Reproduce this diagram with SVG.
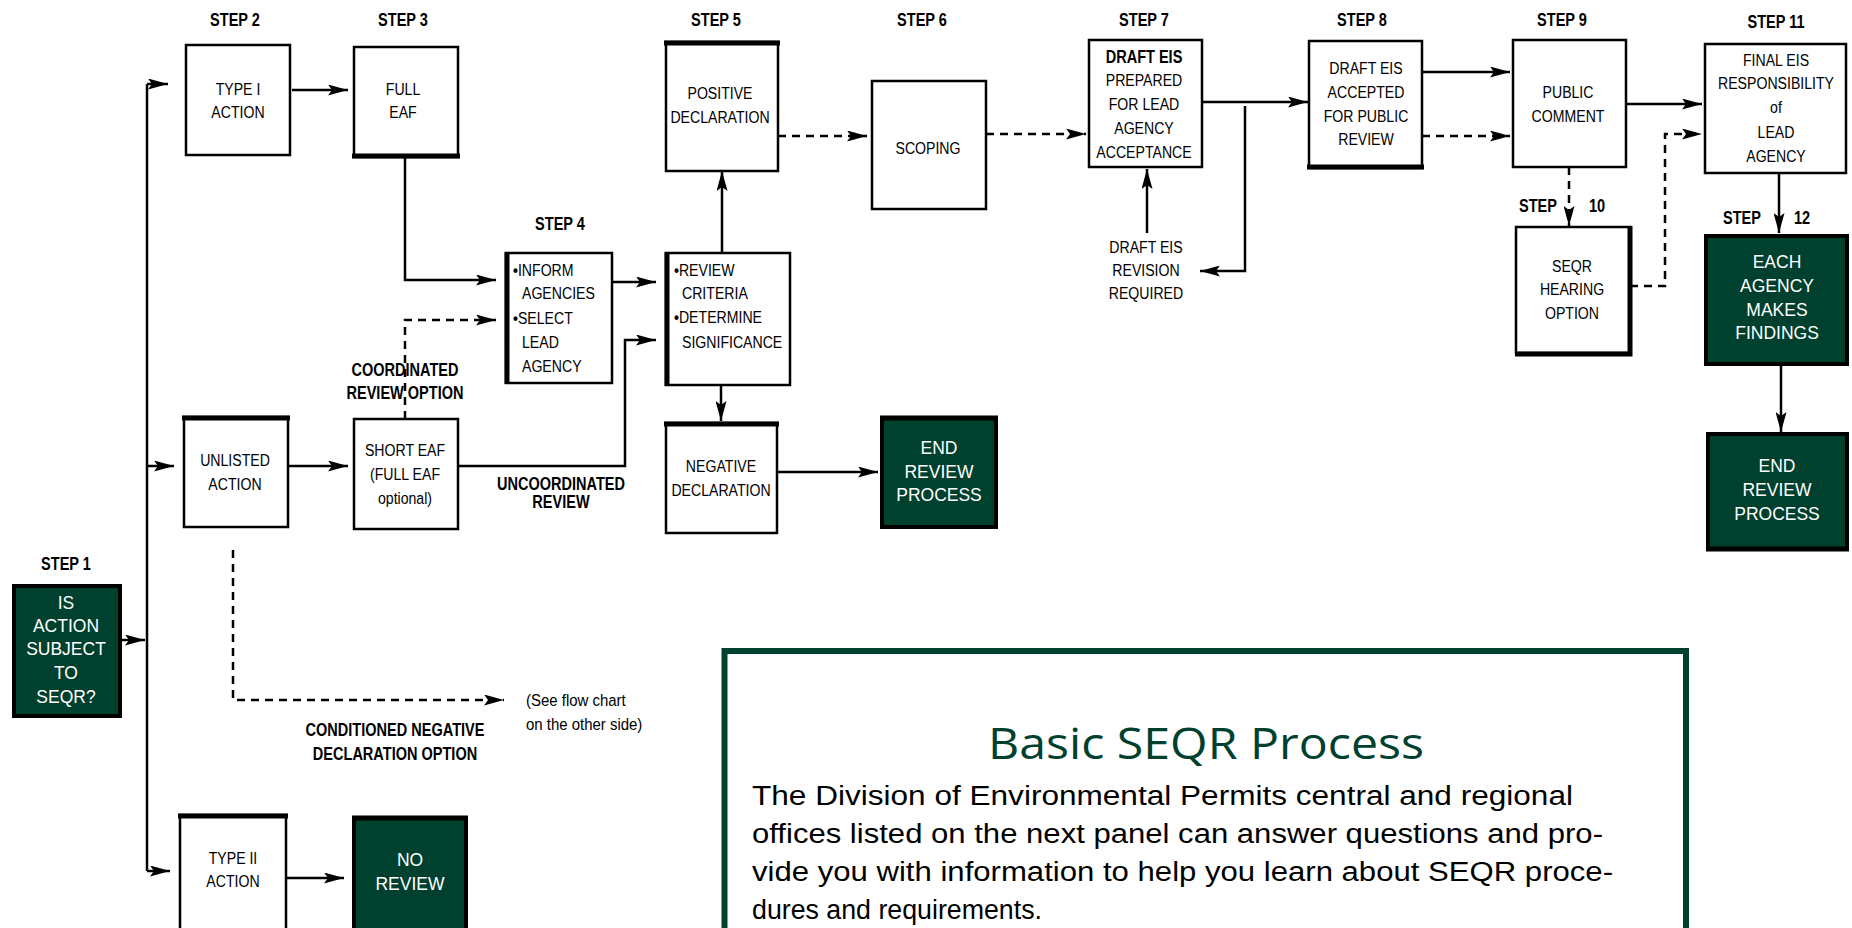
<svg xmlns="http://www.w3.org/2000/svg" width="1852" height="928" viewBox="0 0 1852 928">
<defs>
<style>
.bx{fill:#fff;stroke:#000;stroke-width:2.5}
.gb{fill:#00402e;stroke:#000;stroke-width:4}
.tk{fill:none;stroke:#000;stroke-width:5}
.n{font-family:"Liberation Sans",Arial,sans-serif;font-size:17px;text-anchor:middle;fill:#000}
.ns{font-family:"Liberation Sans",Arial,sans-serif;font-size:17px;fill:#000}
.st{font-family:"Liberation Sans",Arial,sans-serif;font-size:17.5px;font-weight:bold;text-anchor:middle;fill:#000}
.w{font-family:"Liberation Sans",Arial,sans-serif;font-size:17.5px;text-anchor:middle;fill:#fff}
.c{fill:none;stroke:#000;stroke-width:2.5;marker-end:url(#ah)}
.d{fill:none;stroke:#000;stroke-width:2.5;stroke-dasharray:8 6;marker-end:url(#ah)}
.l{fill:none;stroke:#000;stroke-width:2.5}
.body{font-family:"Liberation Sans",Arial,sans-serif;font-size:27px;fill:#000}
</style>
<marker id="ah" markerUnits="userSpaceOnUse" viewBox="0 0 20 11" refX="20" refY="5.5" markerWidth="20" markerHeight="11" orient="auto">
<path d="M0,0 L20,5.5 L0,11 L4,5.5 z" fill="#000"/>
</marker>
</defs>
<rect width="1852" height="928" fill="#fff"/>

<g id="step-labels">
<text class="st" transform="translate(235,26) scale(.83,1)">STEP 2</text>
<text class="st" transform="translate(403,26) scale(.83,1)">STEP 3</text>
<text class="st" transform="translate(560,230) scale(.83,1)">STEP 4</text>
<text class="st" transform="translate(716,26) scale(.83,1)">STEP 5</text>
<text class="st" transform="translate(922,26) scale(.83,1)">STEP 6</text>
<text class="st" transform="translate(1144,26) scale(.83,1)">STEP 7</text>
<text class="st" transform="translate(1362,26) scale(.83,1)">STEP 8</text>
<text class="st" transform="translate(1562,26) scale(.83,1)">STEP 9</text>
<text class="st" transform="translate(1776,28) scale(.83,1)">STEP 11</text>
<text class="st" transform="translate(66,570) scale(.83,1)">STEP 1</text>
<text class="st" transform="translate(1538,212) scale(.83,1)">STEP</text>
<text class="st" transform="translate(1597,212) scale(.83,1)">10</text>
<text class="st" transform="translate(1742,224) scale(.83,1)">STEP</text>
<text class="st" transform="translate(1802,224) scale(.83,1)">12</text>
</g>

<g id="connectors">
<path class="l" d="M147,84 V871"/>
<path class="c" d="M147,84 H168"/>
<path class="c" d="M147,466 H174"/>
<path class="c" d="M147,871 H170"/>
<path class="c" d="M121,640 H145"/>
<path class="c" d="M292,90 H348"/>
<path class="c" d="M405,157 V280 H496"/>
<path class="d" d="M405,419 V320 H496"/>
<path class="c" d="M612,282 H656"/>
<path class="c" d="M288,466 H348"/>
<path class="c" d="M458,466 H625 V340 H656"/>
<path class="c" d="M722,253 V171"/>
<path class="c" d="M721,385 V421"/>
<path class="c" d="M777,472 H878"/>
<path class="d" d="M778,136 H867"/>
<path class="d" d="M986,134 H1086"/>
<path class="c" d="M1202,102 H1308"/>
<path class="c" d="M1245,106 V271 H1200"/>
<path class="c" d="M1147,233 V169"/>
<path class="c" d="M1422,72 H1510"/>
<path class="d" d="M1422,136 H1510"/>
<path class="c" d="M1626,104 H1702"/>
<path class="d" d="M1630,286 H1665 V134 H1702"/>
<path class="d" d="M1569,167 V226"/>
<path class="c" d="M1779,173 V233"/>
<path class="c" d="M1781,365 V432"/>
<path class="d" d="M233,550 V700 H504"/>
<path class="c" d="M280,878 H344"/>
</g>

<g id="step1">
<rect class="gb" x="14" y="586" width="106" height="130" stroke-width="5"/>
<text class="w" x="66" y="609" font-size="18.5">IS</text>
<text class="w" x="66" y="632" font-size="18.5">ACTION</text>
<text class="w" x="66" y="655" font-size="18.5">SUBJECT</text>
<text class="w" x="66" y="679" font-size="18.5">TO</text>
<text class="w" x="66" y="703" font-size="18.5">SEQR?</text>
</g>

<g id="type1">
<rect class="bx" x="186" y="45" width="104" height="110"/>
<text class="n" transform="translate(238,95) scale(.83,1)">TYPE I</text>
<text class="n" transform="translate(238,118) scale(.83,1)">ACTION</text>
</g>

<g id="fulleaf">
<rect class="bx" x="354" y="47" width="104" height="110"/>
<path class="tk" d="M352,156 H460"/>
<text class="n" transform="translate(403,95) scale(.83,1)">FULL</text>
<text class="n" transform="translate(403,118) scale(.83,1)">EAF</text>
</g>

<g id="step4">
<rect class="bx" x="506" y="253" width="106" height="130" stroke-width="3"/>
<path class="tk" d="M507,252 V384" stroke-width="4"/>
<text class="ns" transform="translate(513,276) scale(.83,1)"><tspan font-weight="bold">•</tspan>INFORM</text>
<text class="ns" transform="translate(522,299) scale(.83,1)">AGENCIES</text>
<text class="ns" transform="translate(513,324) scale(.83,1)"><tspan font-weight="bold">•</tspan>SELECT</text>
<text class="ns" transform="translate(522,348) scale(.83,1)">LEAD</text>
<text class="ns" transform="translate(522,372) scale(.83,1)">AGENCY</text>
</g>

<g id="unlisted">
<rect class="bx" x="184" y="417" width="104" height="110"/>
<path class="tk" d="M182,418 H290"/>
<text class="n" transform="translate(235,466) scale(.83,1)">UNLISTED</text>
<text class="n" transform="translate(235,490) scale(.83,1)">ACTION</text>
</g>

<g id="shorteaf">
<rect class="bx" x="354" y="419" width="104" height="110"/>
<text class="n" transform="translate(405,456) scale(.83,1)">SHORT EAF</text>
<text class="n" transform="translate(405,480) scale(.83,1)">(FULL EAF</text>
<text class="n" transform="translate(405,504) scale(.83,1)">optional)</text>
</g>

<g id="type2">
<rect class="bx" x="180" y="815" width="106" height="130"/>
<path class="tk" d="M178,816 H288"/>
<text class="n" transform="translate(233,864) scale(.83,1)">TYPE II</text>
<text class="n" transform="translate(233,887) scale(.83,1)">ACTION</text>
</g>

<g id="noreview">
<rect class="gb" x="354" y="818" width="112" height="130" stroke-width="3"/>
<path class="tk" d="M352,818 H468"/>
<text class="w" x="410" y="866" font-size="18">NO</text>
<text class="w" x="410" y="890" font-size="18">REVIEW</text>
</g>

<g id="positive">
<rect class="bx" x="666" y="42" width="112" height="129"/>
<path class="tk" d="M664,43 H780"/>
<text class="n" transform="translate(720,99) scale(.83,1)">POSITIVE</text>
<text class="n" transform="translate(720,123) scale(.83,1)">DECLARATION</text>
</g>

<g id="review">
<rect class="bx" x="666" y="253" width="124" height="132"/>
<path class="tk" d="M667,252 V386" stroke-width="4"/>
<text class="ns" transform="translate(674,276) scale(.83,1)"><tspan font-weight="bold">•</tspan>REVIEW</text>
<text class="ns" transform="translate(682,299) scale(.83,1)">CRITERIA</text>
<text class="ns" transform="translate(674,323) scale(.83,1)"><tspan font-weight="bold">•</tspan>DETERMINE</text>
<text class="ns" transform="translate(682,348) scale(.83,1)">SIGNIFICANCE</text>
</g>

<g id="negative">
<rect class="bx" x="666" y="423" width="111" height="110"/>
<path class="tk" d="M664,424 H779"/>
<text class="n" transform="translate(721,472) scale(.83,1)">NEGATIVE</text>
<text class="n" transform="translate(721,496) scale(.83,1)">DECLARATION</text>
</g>

<g id="endreview1">
<rect class="gb" x="882" y="418" width="114" height="109" stroke-width="3"/>
<path class="tk" d="M880,418 H998"/>
<text class="w" x="939" y="454" font-size="18">END</text>
<text class="w" x="939" y="478" font-size="18">REVIEW</text>
<text class="w" x="939" y="501" font-size="18">PROCESS</text>
</g>

<g id="scoping">
<rect class="bx" x="872" y="81" width="114" height="128" stroke-width="3"/>
<text class="n" transform="translate(928,154) scale(.83,1)">SCOPING</text>
</g>

<g id="drafteis">
<rect class="bx" x="1089" y="40" width="113" height="127" stroke-width="4"/>
<text class="st" transform="translate(1144,63) scale(.83,1)">DRAFT EIS</text>
<text class="n" transform="translate(1144,86) scale(.83,1)">PREPARED</text>
<text class="n" transform="translate(1144,110) scale(.83,1)">FOR LEAD</text>
<text class="n" transform="translate(1144,134) scale(.83,1)">AGENCY</text>
<text class="n" transform="translate(1144,158) scale(.83,1)">ACCEPTANCE</text>
</g>

<g id="revision">
<text class="n" transform="translate(1146,253) scale(.83,1)">DRAFT EIS</text>
<text class="n" transform="translate(1146,276) scale(.83,1)">REVISION</text>
<text class="n" transform="translate(1146,299) scale(.83,1)">REQUIRED</text>
</g>

<g id="accepted">
<rect class="bx" x="1309" y="41" width="113" height="127"/>
<path class="tk" d="M1307,167 H1424"/>
<text class="n" transform="translate(1366,74) scale(.83,1)">DRAFT EIS</text>
<text class="n" transform="translate(1366,98) scale(.83,1)">ACCEPTED</text>
<text class="n" transform="translate(1366,122) scale(.83,1)">FOR PUBLIC</text>
<text class="n" transform="translate(1366,145) scale(.83,1)">REVIEW</text>
</g>

<g id="public">
<rect class="bx" x="1513" y="40" width="113" height="127" stroke-width="4"/>
<text class="n" transform="translate(1568,98) scale(.83,1)">PUBLIC</text>
<text class="n" transform="translate(1568,122) scale(.83,1)">COMMENT</text>
</g>

<g id="hearing">
<rect class="bx" x="1516" y="227" width="114" height="126"/>
<path class="tk" d="M1630,226 V354 H1515" stroke-width="4"/>
<text class="n" transform="translate(1572,272) scale(.83,1)">SEQR</text>
<text class="n" transform="translate(1572,295) scale(.83,1)">HEARING</text>
<text class="n" transform="translate(1572,319) scale(.83,1)">OPTION</text>
</g>

<g id="finaleis">
<rect class="bx" x="1705" y="44" width="141" height="129" stroke-width="4"/>
<text class="n" transform="translate(1776,66) scale(.83,1)">FINAL EIS</text>
<text class="n" transform="translate(1776,89) scale(.83,1)">RESPONSIBILITY</text>
<text class="n" transform="translate(1776,113) scale(.83,1)">of</text>
<text class="n" transform="translate(1776,138) scale(.83,1)">LEAD</text>
<text class="n" transform="translate(1776,162) scale(.83,1)">AGENCY</text>
</g>

<g id="findings">
<rect class="gb" x="1706" y="236" width="141" height="128"/>
<text class="w" x="1777" y="268">EACH</text>
<text class="w" x="1777" y="292">AGENCY</text>
<text class="w" x="1777" y="316">MAKES</text>
<text class="w" x="1777" y="339">FINDINGS</text>
</g>

<g id="endreview2">
<rect class="gb" x="1708" y="434" width="139" height="115" stroke-width="3.5"/>
<path class="tk" d="M1706,549 H1849" stroke-width="4"/>
<text class="w" x="1777" y="472" font-size="18">END</text>
<text class="w" x="1777" y="496" font-size="18">REVIEW</text>
<text class="w" x="1777" y="520" font-size="18">PROCESS</text>
</g>

<g id="labels">
<text class="st" transform="translate(405,376) scale(.83,1)">COORDINATED</text>
<text class="st" transform="translate(405,399) scale(.83,1)">REVIEW OPTION</text>
<text class="st" transform="translate(561,490) scale(.83,1)">UNCOORDINATED</text>
<text class="st" transform="translate(561,508) scale(.83,1)">REVIEW</text>
<text class="st" transform="translate(395,736) scale(.83,1)">CONDITIONED NEGATIVE</text>
<text class="st" transform="translate(395,760) scale(.83,1)">DECLARATION OPTION</text>
<text class="ns" font-size="18.5" transform="translate(526,706) scale(.88,1)">(See flow chart</text>
<text class="ns" font-size="18.5" transform="translate(526,730) scale(.88,1)">on the other side)</text>
</g>

<g id="panel">
<rect x="724.5" y="651" width="961.5" height="320" fill="none" stroke="#00402e" stroke-width="6"/>
<text x="1206" y="759" font-family="'Open Sans','Liberation Sans',sans-serif" font-size="44" fill="#00402e" text-anchor="middle" textLength="436" lengthAdjust="spacingAndGlyphs">Basic SEQR Process</text>
<text class="body" x="752" y="805" textLength="821" lengthAdjust="spacingAndGlyphs">The Division of Environmental Permits central and regional</text>
<text class="body" x="752" y="843" textLength="851" lengthAdjust="spacingAndGlyphs">offices listed on the next panel can answer questions and pro-</text>
<text class="body" x="752" y="881" textLength="861" lengthAdjust="spacingAndGlyphs">vide you with information to help you learn about SEQR proce-</text>
<text class="body" x="752" y="919" textLength="290" lengthAdjust="spacingAndGlyphs">dures and requirements.</text>
</g>
</svg>
